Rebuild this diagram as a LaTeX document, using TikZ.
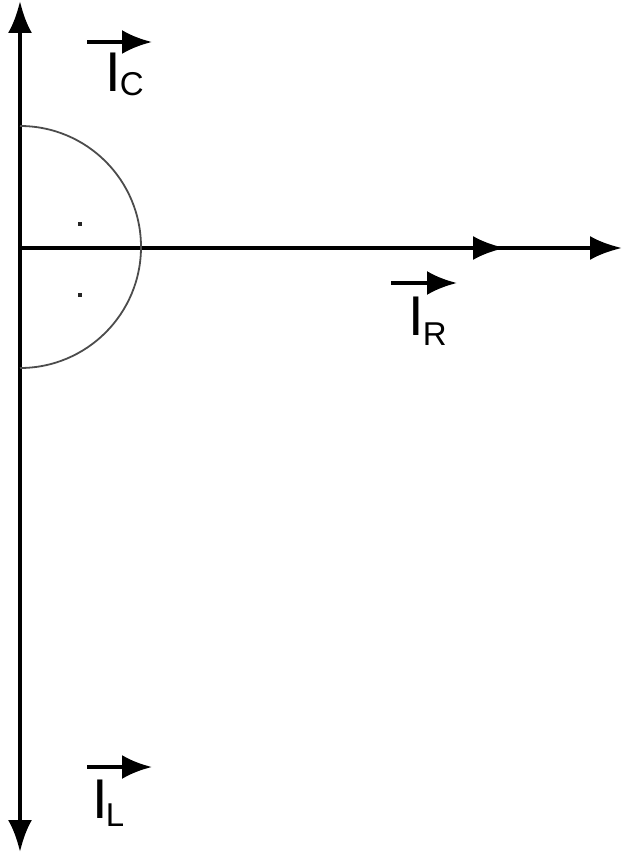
\documentclass[tikz,border=0pt]{standalone}
\usepackage{fontspec}
\setmainfont{Liberation Sans}
\usetikzlibrary{arrows.meta}
\newcommand{\mysub}[1]{{\fontsize{33}{33}\selectfont #1}}
\begin{document}
\begin{tikzpicture}[x=1pt,y=-1pt,
  axis/.style={line width=4.5pt,-{Latex[length=32pt,width=24pt]}},
  vec/.style={line width=4pt,-{Latex[length=30pt,width=24pt]}},
  lbl/.style={inner sep=0pt,font=\fontsize{56}{56}\selectfont},
  arcline/.style={line width=1.8pt,draw=black!70},
  dotmark/.style={rectangle,fill=black!85,inner sep=0pt,minimum size=4pt}]
\useasboundingbox (0,0) rectangle (623,853);
% axes
\coordinate (o) at (20,248);
\coordinate (top) at (20,1);
\coordinate (bot) at (20,852);
\coordinate (mid) at (505,248);
\coordinate (end) at (622,248);
\draw[line width=4.5pt,{Latex[length=32pt,width=24pt]}-{Latex[length=32pt,width=24pt]}] (top) -- (bot);
\draw[axis] (o) -- (mid);
\draw[axis] (o) -- (end);
% arc
\coordinate (arcstart) at (20,126);
\draw[arcline] (arcstart) arc[start angle=-90,end angle=90,radius=121];
% dots
\node[dotmark] (d1) at (80,224) {};
\node[dotmark] (d2) at (80,295) {};
% I_C
\coordinate (ca) at (87,42);
\coordinate (cb) at (152,42);
\draw[vec] (ca) -- (cb);
\node[lbl,anchor=base west] (ic) at (105,92) {I\kern-1pt\raisebox{-4pt}{\mysub{C}}};
% I_R
\coordinate (ra) at (391,283);
\coordinate (rb) at (457,283);
\draw[vec] (ra) -- (rb);
\node[lbl,anchor=base west] (ir) at (408,335) {I\kern-1pt\raisebox{-10pt}{\mysub{R}}};
% I_L
\coordinate (la) at (87,767);
\coordinate (lb) at (152,767);
\draw[vec] (la) -- (lb);
\node[lbl,anchor=base west] (il) at (92,818) {I\kern-2pt\raisebox{-8pt}{\mysub{L}}};
\end{tikzpicture}
\end{document}
